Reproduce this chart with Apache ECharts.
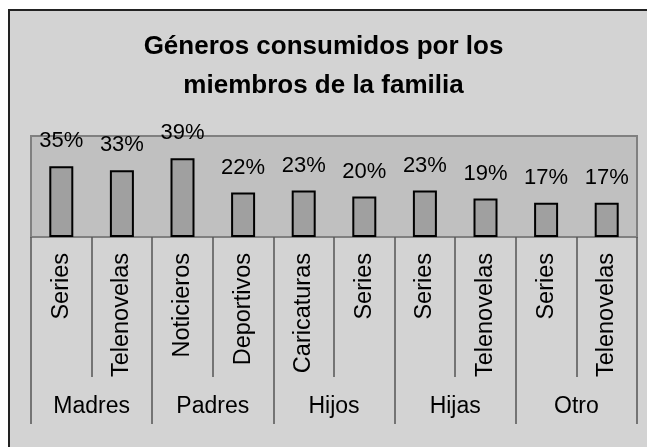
<!DOCTYPE html>
<html>
<head>
<meta charset="utf-8">
<script src="https://cdn.jsdelivr.net/npm/echarts@6/dist/echarts.min.js"></script>
<style>
html,body{margin:0;padding:0;background:#fff;}
#chart{width:647px;height:447px;}
</style>
</head>
<body>
<div id="chart"></div>
<script>
var titleText = 'Géneros consumidos por los\nmiembros de la familia';
var categories = ['Series','Telenovelas','Noticieros','Deportivos','Caricaturas','Series','Series','Telenovelas','Series','Telenovelas'];
var groups = ['Madres','Padres','Hijos','Hijas','Otro'];
var values = [35,33,39,22,23,20,23,19,17,17];

var FONT = '"Liberation Sans", Arial, sans-serif';
var chart = echarts.init(document.getElementById('chart'), null, {renderer:'canvas'});
chart.setOption({
  backgroundColor:'#ffffff',
  animation:false,
  graphic:[{
    type:'rect', z:-10, silent:true,
    shape:{x:9, y:10, width:700, height:500},
    style:{fill:'#d3d3d3', stroke:'#222222', lineWidth:2}
  }],
  title:{
    text:titleText,
    left:'center', top:22,
    textStyle:{fontFamily:FONT, fontSize:26, fontWeight:'bold', color:'#000', lineHeight:39}
  },
  grid:{
    show:true, left:31, right:10, top:136, bottom:210,
    backgroundColor:'#c0c0c0', borderColor:'#808080', borderWidth:2
  },
  xAxis:[{
    type:'category', data:categories, position:'bottom', gridIndex:0,
    axisLine:{show:false},
    axisTick:{show:true, interval:0, length:140, lineStyle:{color:'#555', width:1.5}},
    axisLabel:{interval:0, rotate:90, margin:16, fontFamily:FONT, fontSize:23.5, color:'#000'}
  },{
    type:'category', data:groups, position:'bottom', gridIndex:0,
    axisLine:{show:false},
    axisTick:{show:true, interval:0, length:187, lineStyle:{color:'#555', width:1.5}},
    axisLabel:{interval:0, margin:158, fontFamily:FONT, fontSize:23, color:'#000'}
  }],
  yAxis:{type:'value', min:0, max:50, show:false, splitLine:{show:false}},
  series:[{
    type:'bar', xAxisIndex:0, data:values, barWidth:24,
    itemStyle:{color:'#a0a0a0', borderColor:'#000', borderWidth:2},
    label:{show:true, position:'top', distance:14, formatter:function(p){return p.value+'%';},
      fontFamily:FONT, fontSize:22, color:'#000'}
  }]
});
</script>
</body>
</html>
